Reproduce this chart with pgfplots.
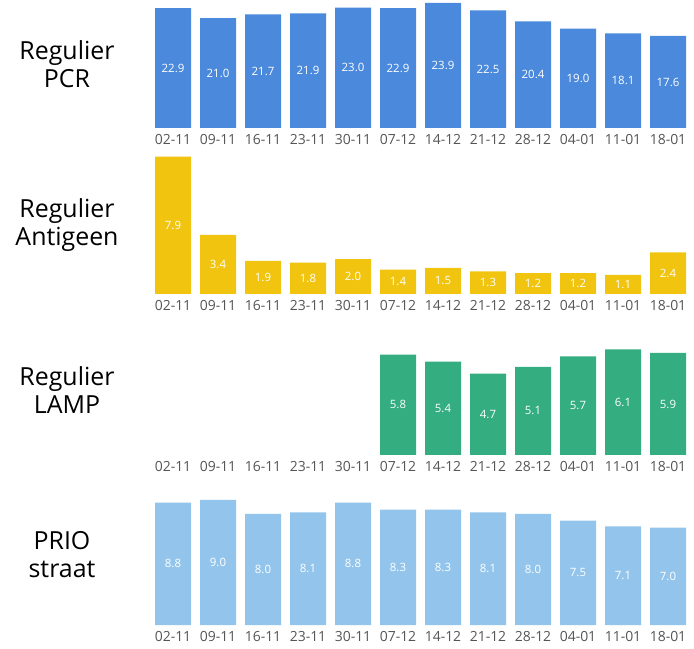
\documentclass[border=0pt]{standalone}
\usepackage{pgfplots}
\pgfplotsset{compat=1.18}
\usepackage{fontspec}
\setmainfont{Open Sans}
\definecolor{cpcr}{HTML}{4A89DC}
\definecolor{cag}{HTML}{F1C40F}
\definecolor{clamp}{HTML}{34AD80}
\definecolor{cprio}{HTML}{93C5EC}
\definecolor{ticktext}{HTML}{555555}
\pgfplotsset{
 panel/.style={
  scale only axis, width=540bp, anchor=south west,
  xmin=-0.5, xmax=11.5, ymin=0,
  axis line style={draw=none},
  ytick=\empty,
  xtick={0,...,11},
  xticklabels={02-11,09-11,16-11,23-11,30-11,07-12,14-12,21-12,28-12,04-01,11-01,18-01},
  major tick length=0pt,
  xticklabel style={font=\fontsize{14}{16}\selectfont, text=ticktext, yshift=-3bp},
  /pgf/number format/assume math mode=true,
  clip=false,
 },
 bars/.style={ybar, bar width=36bp, draw=none, fill=#1,
  nodes near coords={\pgfmathprintnumber[fixed,zerofill,precision=1]{\pgfplotspointmeta}},
  nodes near coords align=center,
  visualization depends on=rawy \as \rawy,
  every node near coord/.append style={font=\fontsize{11.5}{12}\selectfont, text=white, shift={(axis direction cs:0,-\rawy/2)}},
 }
}
\begin{document}
\begin{tikzpicture}
\path[use as bounding box] (0,0) rectangle (694bp,649bp);
\begin{axis}[panel, at={(150.5bp,521bp)}, height=128bp, ymax=24.47]
\addplot[bars=cpcr] coordinates {(0,22.9) (1,21.0) (2,21.7) (3,21.9) (4,23.0) (5,22.9) (6,23.9) (7,22.5) (8,20.4) (9,19.0) (10,18.1) (11,17.6)};
\end{axis}
\begin{axis}[panel, at={(150.5bp,355bp)}, height=140bp, ymax=8.05]
\addplot[bars=cag] coordinates {(0,7.9) (1,3.4) (2,1.9) (3,1.8) (4,2.0) (5,1.4) (6,1.5) (7,1.3) (8,1.2) (9,1.2) (10,1.1) (11,2.4)};
\end{axis}
\begin{axis}[panel, at={(150.5bp,194bp)}, height=110bp, ymax=6.36]
\addplot[bars=clamp] coordinates {(5,5.8) (6,5.4) (7,4.7) (8,5.1) (9,5.7) (10,6.1) (11,5.9)};
\end{axis}
\begin{axis}[panel, at={(150.5bp,24bp)}, height=130bp, ymax=9.35]
\addplot[bars=cprio] coordinates {(0,8.8) (1,9.0) (2,8.0) (3,8.1) (4,8.8) (5,8.3) (6,8.3) (7,8.1) (8,8.0) (9,7.5) (10,7.1) (11,7.0)};
\end{axis}
\begin{scope}[every node/.style={align=center, font=\fontsize{25}{28}\selectfont}]
\node at (67bp,585bp) {Regulier\\PCR};
\node at (67bp,424bp) {Regulier\\Antigeen};
\node at (67bp,259bp) {Regulier\\LAMP};
\node at (62bp,94bp) {PRIO\\straat};
\end{scope}
\end{tikzpicture}
\end{document}
